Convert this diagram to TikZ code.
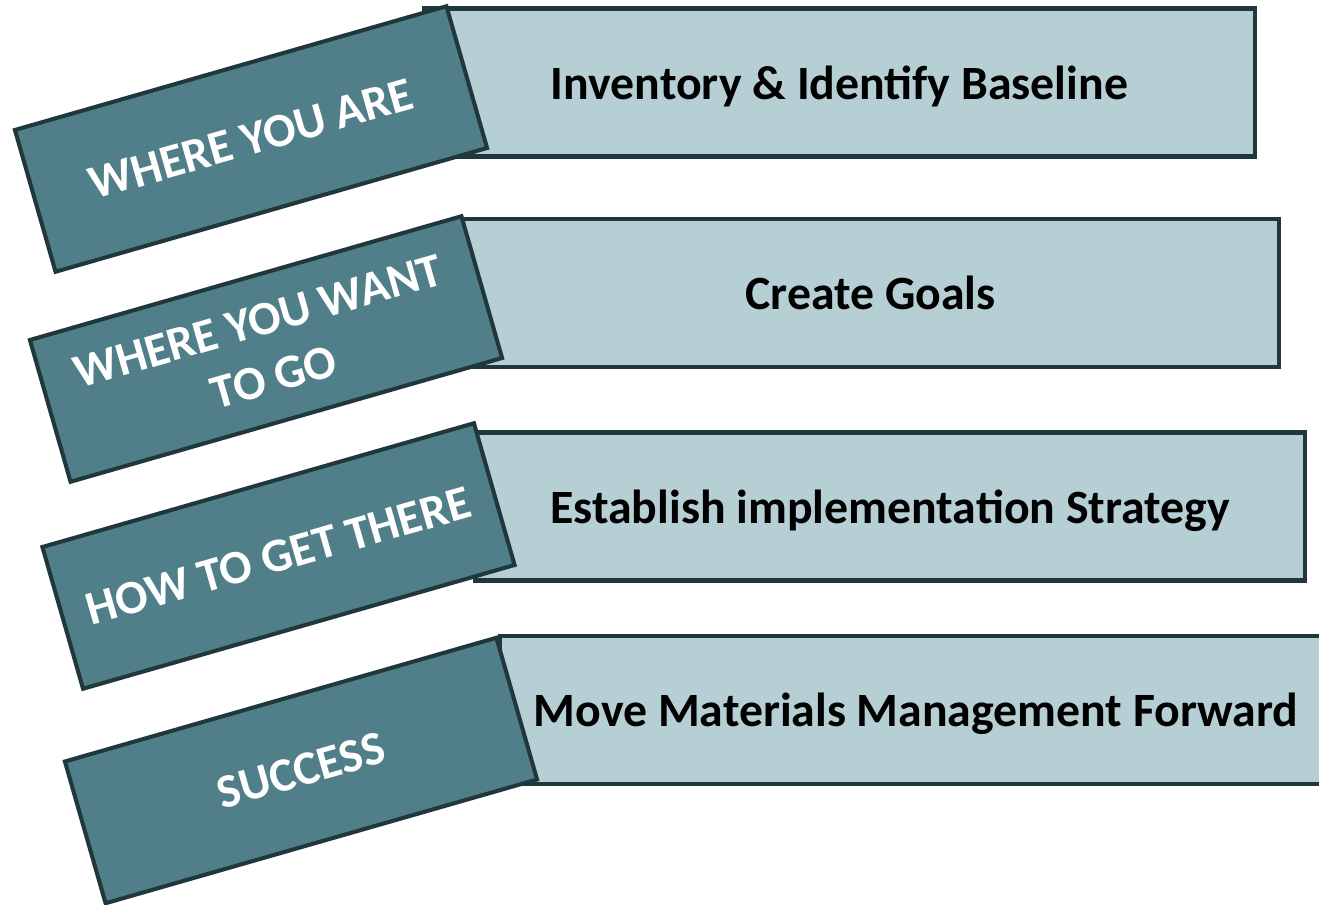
\documentclass[tikz,border=0pt]{standalone}
\usepackage{fontspec}
\setmainfont{Carlito}
\definecolor{stagefill}{RGB}{182,207,213}
\definecolor{labelfill}{RGB}{80,127,138}
\definecolor{edgecol}{RGB}{32,56,60}
\begin{document}
\begin{tikzpicture}[x=0.02cm, y=-0.02cm,
    stagebox/.style={draw=edgecol, fill=stagefill, line width=2.3pt,
      minimum height=2.96cm, text depth=0pt, font=\fontsize{27.2}{32}\selectfont\bfseries},
    labelbox/.style={draw=edgecol, fill=labelfill, line width=2.3pt, rotate=16,
      minimum width=8.98cm, minimum height=2.95cm, text=white, align=center,
      font=\fontsize{27.2}{33}\selectfont\bfseries}]
      \useasboundingbox (0, 0) rectangle (1319, 905);

      % steps on the right
      \node[stagebox, minimum width=16.62cm] (baseline) at (839.5, 82.5){Inventory \& Identify Baseline};
      \node[stagebox, minimum width=16.34cm] (goals) at (870.5, 293){Create Goals};
      \node[stagebox, minimum width=16.6cm] (strategy) at (890, 506.5){Establish implementation Strategy};
      \node[stagebox, minimum width=16.64cm] (forward) at (916, 710){Move Materials Management Forward};

      % tilted labels on the left
      \node[labelbox] (are) at (251, 139){WHERE YOU ARE};
      \node[labelbox] (want) at (266, 349){WHERE YOU WANT\\TO GO};
      \node[labelbox] (there) at (278.5, 556){HOW TO GET THERE};
      \node[labelbox] (success) at (301, 770.5){SUCCESS};
    \end{tikzpicture}
\end{document}
